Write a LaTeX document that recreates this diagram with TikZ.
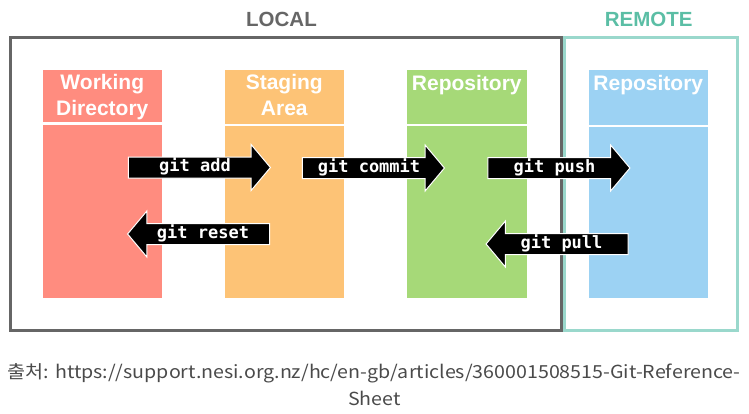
\documentclass[tikz,border=0pt]{standalone}
\usepackage{fontspec}
\usepackage{graphicx}
\setmainfont{Liberation Sans}
\newfontfamily\arrowmono{DejaVu Sans Mono}
\newfontfamily\krfont{Noto Sans CJK KR}
\usetikzlibrary{shapes.arrows}
\definecolor{localgray}{HTML}{666666}
\definecolor{remoteframe}{HTML}{9AD8CC}
\definecolor{remotetext}{HTML}{5BBEA5}
\definecolor{wdcol}{HTML}{FF8C7F}
\definecolor{stcol}{HTML}{FDC376}
\definecolor{repocol}{HTML}{A6D978}
\definecolor{remcol}{HTML}{9CD2F3}
\definecolor{capgray}{HTML}{4A4A4A}
\newcommand{\captextone}{\krfont\fontsize{18}{18}\selectfont 출처: https://support.nesi.org.nz/hc/en-gb/articles/360001508515-Git-Reference-}
\newlength{\capw}
\AtBeginDocument{\settowidth{\capw}{\captextone}\pgfmathsetmacro{\capscale}{733/\capw}\xdef\capscale{\capscale}}
\tikzset{
  areabox/.style={draw, line width=3pt, minimum width=#1, minimum height=293pt, inner sep=0pt},
  arealabel/.style={anchor=base, inner sep=0pt, font=\bfseries\fontsize{20.5}{20.5}\selectfont},
  column/.style={fill=#1, minimum width=119.5pt, minimum height=228pt, inner sep=0pt, anchor=north west},
  colhead/.style={anchor=base, inner sep=0pt, text=white, align=center,
    font=\bfseries\fontsize{21}{25.7}\selectfont},
  sepline/.style={white, line width=2.5pt},
  gitarrow/.style={single arrow, fill=black, draw=white, line width=1pt, text=white,
    font=\arrowmono\bfseries\fontsize{17}{17}\selectfont,
    minimum height=142pt, single arrow head extend=12.5pt, single arrow tip angle=100,
    text height=11pt, text depth=3pt, inner ysep=3pt, inner xsep=4pt},
  leftarrow/.style={gitarrow, shape border rotate=180}
}
\begin{document}
\begin{tikzpicture}[x=1pt,y=-1pt]
\useasboundingbox (0,0) rectangle (749,413);
% area frames
\node[areabox=551pt, draw=localgray] (local) at (285.5,184) {};
\node[areabox=173pt, draw=remoteframe] (remote) at (651,184) {};
\node[arealabel, text=localgray] (loclabel) at (281.5,26.7) {LOCAL};
\node[arealabel, text=remotetext] (remlabel) at (648.7,26.7) {REMOTE};
% columns
\node[column=wdcol] (wd) at (42.5,70) {};
\node[column=stcol] (st) at (224.5,70) {};
\node[column=repocol] (repo) at (407,70) {};
\node[column=remcol] (rrepo) at (588.5,70) {};
\draw[sepline] ([yshift=-53.5pt]wd.north west) -- ([yshift=-53.5pt]wd.north east);
\draw[sepline] ([yshift=-55pt]st.north west) -- ([yshift=-55pt]st.north east);
\draw[sepline] ([yshift=-55pt]repo.north west) -- ([yshift=-55pt]repo.north east);
\draw[sepline] ([yshift=-56pt]rrepo.north west) -- ([yshift=-56pt]rrepo.north east);
\node[colhead] (wdt) at (102.3,115) {Working\\Directory};
\node[colhead] (stt) at (284.3,115) {Staging\\Area};
\node[colhead] (repot) at (466.8,90) {Repository};
\node[colhead] (rrepot) at (648.3,90) {Repository};
% arrows
\node[gitarrow] (add) at (195,167.5) {git add};
\node[gitarrow] (commit) at (369,168) {git commit};
\node[gitarrow] (push) at (554.5,168) {git push};
\node[leftarrow] (reset) at (203,234) {git reset};
\node[leftarrow] (pull) at (561.5,244) {git pull};
% caption
\node[anchor=base west, inner sep=0pt, text=capgray] (cap1) at (7.5,378.3)
  {\scalebox{\capscale}[1]{\captextone}};
\node[anchor=base, inner sep=0pt, text=capgray] (cap2) at (374.5,405.5)
  {\scalebox{\capscale}[1]{\krfont\fontsize{18}{18}\selectfont Sheet}};
\end{tikzpicture}
\end{document}
